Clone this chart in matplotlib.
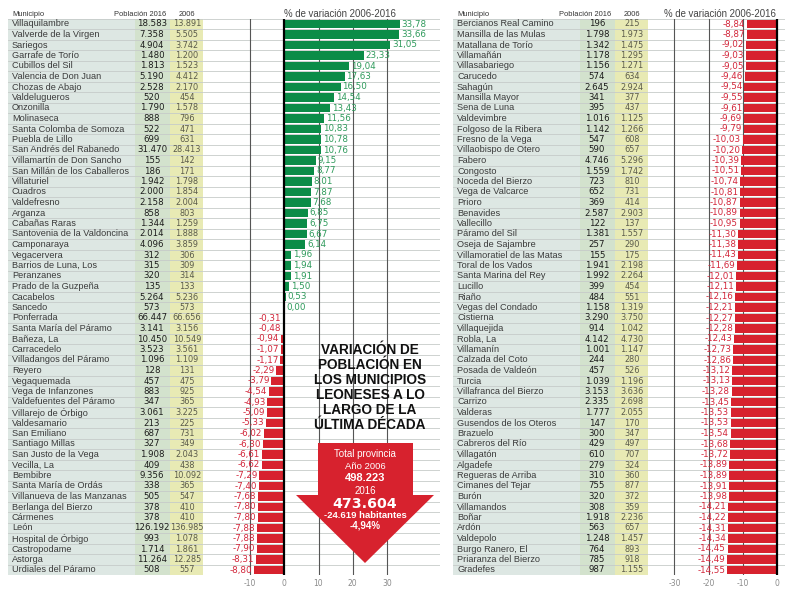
import numpy as np
import matplotlib
matplotlib.use('Agg')
import matplotlib.pyplot as plt
from matplotlib import font_manager
from matplotlib.patches import Polygon

plt.rcParams['axes.unicode_minus'] = False

# --- datos: columna izquierda ---
izq_municipio = [
    'Villaquilambre', 'Valverde de la Virgen', 'Sariegos', 'Garrafe de Torío',
    'Cubillos del Sil', 'Valencia de Don Juan', 'Chozas de Abajo', 'Valdelugueros',
    'Onzonilla', 'Molinaseca', 'Santa Colomba de Somoza', 'Puebla de Lillo',
    'San Andrés del Rabanedo', 'Villamartín de Don Sancho', 'San Millán de los Caballeros',
    'Villaturiel', 'Cuadros', 'Valdefresno', 'Arganza', 'Cabañas Raras',
    'Santovenia de la Valdoncina', 'Camponaraya', 'Vegacervera', 'Barrios de Luna, Los',
    'Peranzanes', 'Prado de la Guzpeña', 'Cacabelos', 'Sancedo', 'Ponferrada',
    'Santa María del Páramo', 'Bañeza, La', 'Carracedelo', 'Villadangos del Páramo',
    'Reyero', 'Vegaquemada', 'Vega de Infanzones', 'Valdefuentes del Páramo',
    'Villarejo de Órbigo', 'Valdesamario', 'San Emiliano', 'Santiago Millas',
    'San Justo de la Vega', 'Vecilla, La', 'Bembibre', 'Santa María de Ordás',
    'Villanueva de las Manzanas', 'Berlanga del Bierzo', 'Cármenes', 'León',
    'Hospital de Órbigo', 'Castropodame', 'Astorga', 'Urdiales del Páramo']
izq_pob2016 = [
    18583, 7358, 4904, 1480, 1813, 5190, 2528, 520, 1790, 888, 522, 699, 31470,
    155, 186, 1942, 2000, 2158, 858, 1344, 2014, 4096, 312, 315, 320, 135, 5264,
    573, 66447, 3141, 10450, 3523, 1096, 128, 457, 883, 347, 3061, 213, 687, 327,
    1908, 409, 9356, 338, 505, 378, 378, 126192, 993, 1714, 11264, 508]
izq_pob2006 = [
    13891, 5505, 3742, 1200, 1523, 4412, 2170, 454, 1578, 796, 471, 631, 28413,
    142, 171, 1798, 1854, 2004, 803, 1259, 1888, 3859, 306, 309, 314, 133, 5236,
    573, 66656, 3156, 10549, 3561, 1109, 131, 475, 925, 365, 3225, 225, 731, 349,
    2043, 438, 10092, 365, 547, 410, 410, 136985, 1078, 1861, 12285, 557]
izq_var = [
    33.78, 33.66, 31.05, 23.33, 19.04, 17.63, 16.50, 14.54, 13.43, 11.56, 10.83,
    10.78, 10.76, 9.15, 8.77, 8.01, 7.87, 7.68, 6.85, 6.75, 6.67, 6.14, 1.96, 1.94,
    1.91, 1.50, 0.53, 0.00, -0.31, -0.48, -0.94, -1.07, -1.17, -2.29, -3.79, -4.54,
    -4.93, -5.09, -5.33, -6.02, -6.30, -6.61, -6.62, -7.29, -7.40, -7.68, -7.80,
    -7.80, -7.88, -7.88, -7.90, -8.31, -8.80]

# --- datos: columna derecha ---
der_municipio = [
    'Bercianos Real Camino', 'Mansilla de las Mulas', 'Matallana de Torío', 'Villamañán',
    'Villasabariego', 'Carucedo', 'Sahagún', 'Mansilla Mayor', 'Sena de Luna',
    'Valdevimbre', 'Folgoso de la Ribera', 'Fresno de la Vega', 'Villaobispo de Otero',
    'Fabero', 'Congosto', 'Noceda del Bierzo', 'Vega de Valcarce', 'Prioro',
    'Benavides', 'Vallecillo', 'Páramo del Sil', 'Oseja de Sajambre',
    'Villamoratiel de las Matas', 'Toral de los Vados', 'Santa Marina del Rey',
    'Lucillo', 'Riaño', 'Vegas del Condado', 'Cistierna', 'Villaquejida', 'Robla, La',
    'Villamanín', 'Calzada del Coto', 'Posada de Valdeón', 'Turcia',
    'Villafranca del Bierzo', 'Carrizo', 'Valderas', 'Gusendos de los Oteros',
    'Brazuelo', 'Cabreros del Río', 'Villagatón', 'Algadefe', 'Regueras de Arriba',
    'Cimanes del Tejar', 'Burón', 'Villamandos', 'Boñar', 'Ardón', 'Valdepolo',
    'Burgo Ranero, El', 'Priaranza del Bierzo', 'Gradefes']
der_pob2016 = [
    196, 1798, 1342, 1178, 1156, 574, 2645, 341, 395, 1016, 1142, 547, 590, 4746,
    1559, 723, 652, 369, 2587, 122, 1381, 257, 155, 1941, 1992, 399, 484, 1158,
    3290, 914, 4142, 1001, 244, 457, 1039, 3153, 2335, 1777, 147, 300, 429, 610,
    279, 310, 755, 320, 308, 1918, 563, 1248, 764, 785, 987]
der_pob2006 = [
    215, 1973, 1475, 1295, 1271, 634, 2924, 377, 437, 1125, 1266, 608, 657, 5296,
    1742, 810, 731, 414, 2903, 137, 1557, 290, 175, 2198, 2264, 454, 551, 1319,
    3750, 1042, 4730, 1147, 280, 526, 1196, 3636, 2698, 2055, 170, 347, 497, 707,
    324, 360, 877, 372, 359, 2236, 657, 1457, 893, 918, 1155]
der_var = [
    -8.84, -8.87, -9.02, -9.03, -9.05, -9.46, -9.54, -9.55, -9.61, -9.69, -9.79,
    -10.03, -10.20, -10.39, -10.51, -10.74, -10.81, -10.87, -10.89, -10.95, -11.30,
    -11.38, -11.43, -11.69, -12.01, -12.11, -12.16, -12.21, -12.27, -12.28, -12.43,
    -12.73, -12.86, -13.12, -13.13, -13.28, -13.45, -13.53, -13.53, -13.54, -13.68,
    -13.72, -13.89, -13.89, -13.91, -13.98, -14.21, -14.22, -14.31, -14.34, -14.45,
    -14.49, -14.55]

total_2006 = 498223
total_2016 = 473604
total_dif = -24619
total_pct = -4.94

titulo = ['VARIACIÓN DE', 'POBLACIÓN EN', 'LOS MUNICIPIOS',
          'LEONESES A LO', 'LARGO DE LA', 'ÚLTIMA DÉCADA']

VERDE = '#0b8c47'
ROJO = '#d7222e'
TXT_VERDE = '#2e9a5b'
TXT_ROJO = '#d2263a'
LINEA = '#c6cbc9'

fuentes = {f.name for f in font_manager.fontManager.ttflist}
if 'Liberation Sans Narrow' in fuentes:
    F_TIT, S_TIT = 'Liberation Sans Narrow', 11.5
else:
    F_TIT, S_TIT = 'Liberation Sans', 9.8


def miles(n):
    return f"{n:,}".replace(",", ".")


def coma(v):
    return f"{v:.2f}".replace(".", ",")


W, H = 800, 602
fig = plt.figure(figsize=(8, 6.02), dpi=100)
fig.patch.set_facecolor('white')


def frect(x0, y0, x1, y1):
    return [x0 / W, 1 - y1 / H, (x1 - x0) / W, (y1 - y0) / H]


def fpt(x, y):
    return (x / W, 1 - y / H)


ESC = 3.42   # pixeles por punto porcentual
TOP, BOT = 18.75, 575.25


def panel(tx0, bx1, cero, municipios, p16, p06, var, grid, ticks):
    n = len(municipios)
    y = np.arange(n)
    # tabla
    at = fig.add_axes(frect(tx0, TOP, tx0 + 195, BOT))
    at.set_xlim(0, 195)
    at.set_ylim(n - 0.5, -0.5)
    at.axis('off')
    at.axvspan(0, 127, color='#dde7e3', lw=0)
    at.axvspan(127, 162, color='#d3e2cd', lw=0)
    at.axvspan(162, 195, color='#e8eab4', lw=0)
    for b in np.arange(-0.5, n):
        at.axhline(b, color=LINEA, lw=0.6)
    for i in y:
        at.text(4, i, municipios[i], ha='left', va='center', fontsize=6.6,
                family='Liberation Sans', color='#3a3a3a')
        at.text(144, i, miles(p16[i]), ha='center', va='center', fontsize=6.2,
                color='#1c1c1c')
        at.text(179, i, miles(p06[i]), ha='center', va='center', fontsize=5.9,
                color='#5a5a4a')
    # barras
    bx0 = tx0 + 195
    ab = fig.add_axes(frect(bx0, TOP, bx1, BOT))
    ab.set_facecolor('none')
    ab.set_xlim((bx0 - cero) / ESC, (bx1 - cero) / ESC)
    ab.set_ylim(n - 0.5, -0.5)
    for s in ab.spines.values():
        s.set_visible(False)
    ab.set_yticks([])
    ab.set_xticks(ticks)
    ab.tick_params(axis='x', length=0, pad=3, labelsize=5.5, labelcolor='#8a8a8a')
    for b in np.arange(-0.5, n):
        ab.axhline(b, color=LINEA, lw=0.6, zorder=0.5)
    for g in grid:
        ab.axvline(g, color='#555555', lw=0.8, zorder=1)
    colores = [VERDE if v >= 0 else ROJO for v in var]
    ab.barh(y, var, height=0.78, color=colores, zorder=2)
    ab.axvline(0, color='black', lw=1.6, zorder=3)
    for i, v in zip(y, var):
        if v >= 0:
            ab.text(v + 0.5, i, coma(v), ha='left', va='center', fontsize=6.3,
                    color=TXT_VERDE, zorder=4)
        else:
            ab.text(v - 0.5, i, coma(v), ha='right', va='center', fontsize=6.3,
                    color=TXT_ROJO, zorder=4)
    # cabeceras
    fig.text(*fpt(tx0 + 4, 14), 'Municipio', ha='left', va='center',
             fontsize=5.4, family='Liberation Sans', color='#333333')
    fig.text(*fpt(tx0 + 158, 14), 'Población 2016', ha='right', va='center',
             fontsize=5.4, family='Liberation Sans', color='#333333')
    fig.text(*fpt(tx0 + 179, 14), '2006', ha='center', va='center',
             fontsize=5.4, family='Liberation Sans', color='#333333')
    return ab


panel(8, 440, 284.3, izq_municipio, izq_pob2016, izq_pob2006, izq_var,
      [-10, 10, 20, 30], [-10, 0, 10, 20, 30])
panel(453, 785, 777, der_municipio, der_pob2016, der_pob2006, der_var,
      [-30, -20, -10], [-30, -20, -10, 0])

fig.text(*fpt(340, 14), '% de variación 2006-2016', ha='center', va='center',
         fontsize=6.9, family='Liberation Sans', color='#444444')
fig.text(*fpt(720, 14), '% de variación 2006-2016', ha='center', va='center',
         fontsize=6.9, family='Liberation Sans', color='#444444')

# titulo central
for k, linea in enumerate(titulo):
    fig.text(*fpt(370, 350 + 15 * k), linea, ha='center', va='center',
             fontsize=S_TIT, family=F_TIT, weight='bold', color='#111111')

# flecha total provincia
flecha = [(318, 443), (413, 443), (413, 495), (434, 495), (365, 563),
          (296, 495), (318, 495)]
fig.add_artist(Polygon([fpt(x, y) for x, y in flecha], closed=True,
                       transform=fig.transFigure, facecolor=ROJO,
                       edgecolor='none', zorder=5))
fig.text(*fpt(365, 454), 'Total provincia', ha='center', va='center',
         fontsize=7, family='Liberation Sans', color='white', zorder=6)
fig.text(*fpt(365, 466.5), 'Año 2006', ha='center', va='center',
         fontsize=6.8, family='Liberation Sans', color='white', zorder=6)
fig.text(*fpt(365, 478), miles(total_2006), ha='center', va='center',
         fontsize=8, family='Liberation Sans', weight='bold', color='white', zorder=6)
fig.text(*fpt(365, 491), '2016', ha='center', va='center',
         fontsize=7, family='Liberation Sans', color='white', zorder=6)
fig.text(*fpt(365, 504), miles(total_2016), ha='center', va='center',
         fontsize=10.2, weight='bold', color='white', zorder=6)
fig.text(*fpt(365, 516), miles(total_dif) + ' habitantes', ha='center', va='center',
         fontsize=6.8, family='Liberation Sans', weight='bold', color='white', zorder=6)
fig.text(*fpt(365, 526), coma(total_pct) + '%', ha='center', va='center',
         fontsize=7, family='Liberation Sans', weight='bold', color='white', zorder=6)

fig.savefig('out.png', dpi=100, facecolor='white')
